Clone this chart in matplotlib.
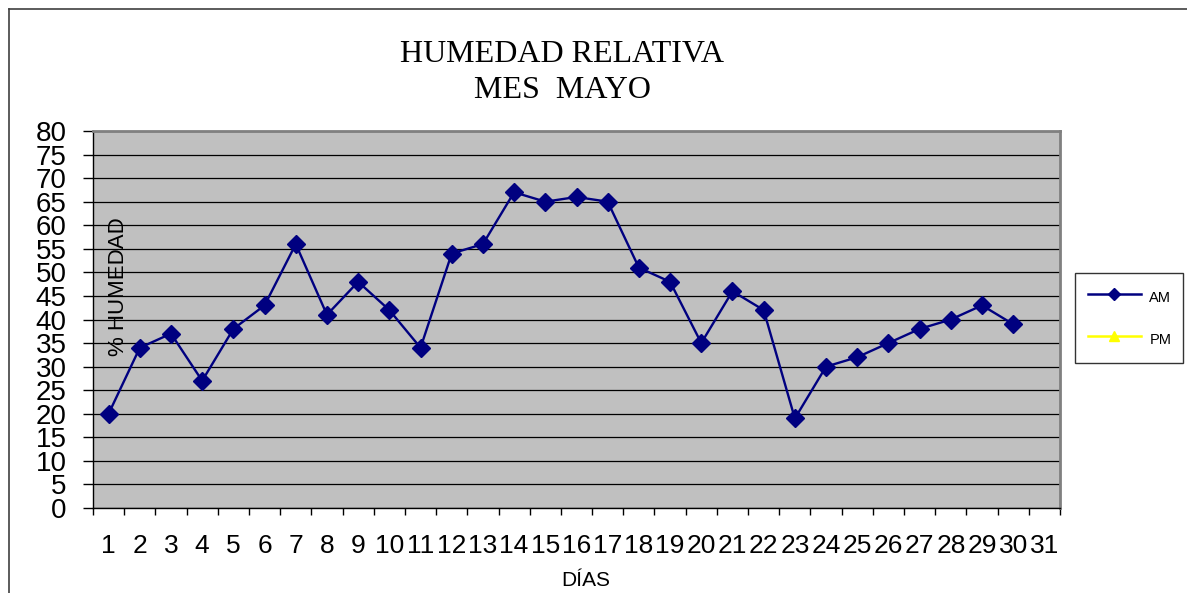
import matplotlib
matplotlib.use('Agg')
import matplotlib.pyplot as plt
from matplotlib.lines import Line2D

plt.rcParams['font.family'] = ['Liberation Sans', 'DejaVu Sans']

# humedad relativa por día (mayo)
dias = list(range(1, 32))
dias_am = list(range(1, 31))
humedad_am = [20, 34, 37, 27, 38, 43, 56, 41, 48, 42, 34, 54, 56, 67, 65,
              66, 65, 51, 48, 35, 46, 42, 19, 30, 32, 35, 38, 40, 43, 39]
humedad_pm = []
y_ticks = list(range(0, 85, 5))

fig = plt.figure(figsize=(11.87, 5.93), dpi=100)
W, H = 1187, 593
ax = fig.add_axes([93 / W, 1 - 508 / H, (1060 - 93) / W, (508 - 131) / H])
ax.set_facecolor('#c0c0c0')

ax.plot(dias_am, humedad_am, color='#000080', marker='D', markersize=9,
        linewidth=1.7, label='AM', zorder=3)
ax.plot(dias_am[:len(humedad_pm)], humedad_pm, color='#ffff00', marker='^',
        markersize=7, linewidth=1.7, label='PM', zorder=3)

ax.set_xlim(0.5, 31.5)
ax.set_ylim(0, 80)
ax.set_yticks(y_ticks)
ax.set_yticklabels([str(v) for v in y_ticks], fontsize=20)
ax.yaxis.grid(True, color='black', linewidth=0.9)
ax.set_axisbelow(True)

# ticks en los límites de cada día, etiquetas en el centro
ax.set_xticks([d - 0.5 for d in dias] + [31.5])
ax.set_xticklabels([])
ax.set_xticks(dias, minor=True)
ax.set_xticklabels([str(d) for d in dias], minor=True, fontsize=19)
ax.tick_params(axis='x', which='major', direction='out', length=5, width=1)
ax.tick_params(axis='x', which='minor', length=0, pad=19)
ax.tick_params(axis='y', direction='out', length=7, width=1, pad=12)

for s in ['top', 'right']:
    ax.spines[s].set_color('#808080')
    ax.spines[s].set_linewidth(2)
for s in ['left', 'bottom']:
    ax.spines[s].set_color('black')
    ax.spines[s].set_linewidth(1)

fig.text(118 / W, 1 - 287 / H, '% HUMEDAD', rotation=90, ha='center',
         va='center', fontsize=16)
fig.text(586 / W, 1 - 580 / H, 'DÍAS', ha='center', va='center', fontsize=15)

fig.text(562 / W, 1 - 55 / H, 'HUMEDAD RELATIVA', ha='center', va='center',
         fontsize=23, family='Liberation Serif')
fig.text(562 / W, 1 - 90 / H, 'MES  MAYO', ha='center', va='center',
         fontsize=23, family='Liberation Serif')

leg = fig.legend(handles=[
    Line2D([], [], color='#000080', marker='D', markersize=6, linewidth=1.8),
    Line2D([], [], color='#ffff00', marker='^', markersize=7, linewidth=1.8)],
    labels=['AM', 'PM'], loc='upper left',
    bbox_to_anchor=(1075 / W, 1 - 362 / H, 108 / W, 89 / H),
    mode='expand', fontsize=10.5, frameon=True, fancybox=False,
    handlelength=3.6, handletextpad=0.6, handleheight=2.0,
    labelspacing=1.3, borderpad=0.9, borderaxespad=0)
leg.get_frame().set_edgecolor('black')
leg.get_frame().set_linewidth(1)

# borde del área del gráfico
fig.add_artist(Line2D([9 / W, 1], [1 - 9 / H, 1 - 9 / H], color='#404040',
                      linewidth=1.2, transform=fig.transFigure))
fig.add_artist(Line2D([9 / W, 9 / W], [0, 1 - 9 / H], color='#404040',
                      linewidth=1.2, transform=fig.transFigure))

fig.savefig('out.png', dpi=100)
